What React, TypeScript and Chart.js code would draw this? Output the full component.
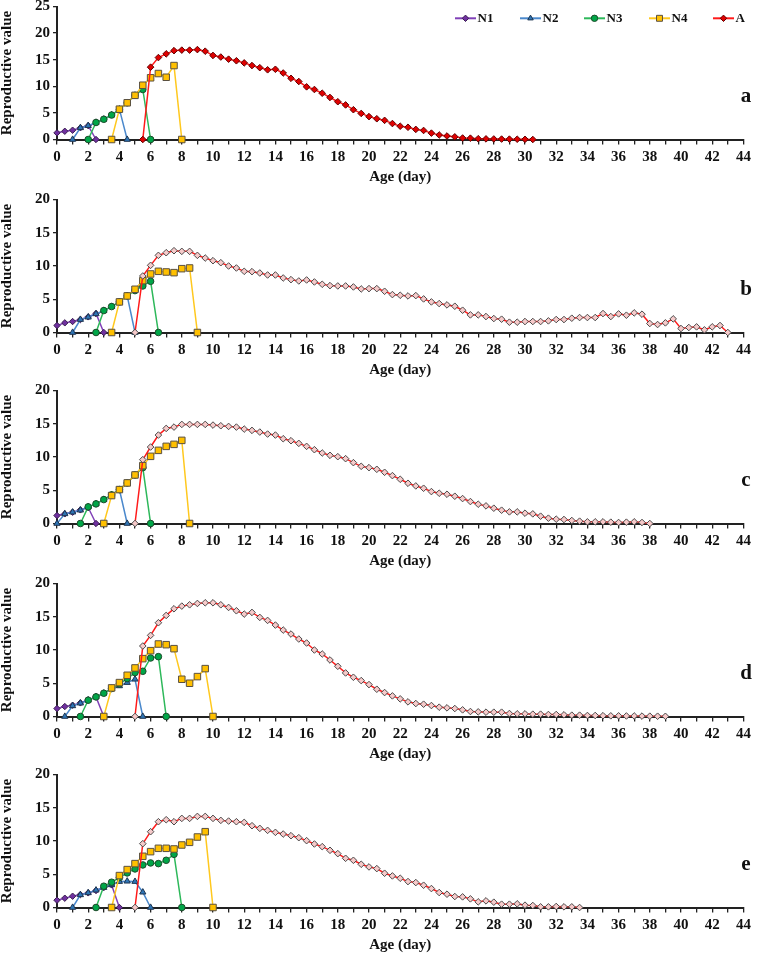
import React, { useEffect, useRef } from 'react';
import { Chart, registerables } from 'chart.js';
import { drawPoint } from 'chart.js/helpers';

Chart.register(...registerables);

// ---------- DATA ----------
const AGES = [0,0.5,1,1.5,2,2.5,3,3.5,4,4.5,5,5.5,6,6.5,7,7.5,8,8.5,9,9.5,10,10.5,11,11.5,12,12.5,13,13.5,14,14.5,15,15.5,16,16.5,17,17.5,18,18.5,19,19.5,20,20.5,21,21.5,22,22.5,23,23.5,24,24.5,25,25.5,26,26.5,27,27.5,28,28.5,29,29.5,30,30.5,31,31.5,32,32.5,33,33.5,34,34.5,35,35.5,36,36.5,37,37.5,38,38.5,39,39.5,40,40.5,41,41.5,42,42.5,43,43.5,44];
const SERIES_NAMES = ['N1', 'N2', 'N3', 'N4', 'A'];
const PANEL_LETTERS = ['a', 'b', 'c', 'd', 'e'];
const Y_MAX = [25, 20, 20, 20, 20];
const X_AXIS_TITLE = 'Age (day)';
const Y_AXIS_TITLE = 'Reproductive value';

// start age of each series (N1, N2, N3, N4, A) per panel
const a_starts = [0, 1, 2, 3.5, 5.5];
const a_N1 = [1.25, 1.55, 1.75, 2.2, 2.6, 0];
const a_N2 = [0, 2.2, 2.6, 3.2, 3.8, 4.6, 5.7, 0];
const a_N3 = [0, 3.2, 3.8, 4.6, 5.6, 6.9, 8.3, 9.4, 0];
const a_N4 = [0, 5.7, 6.9, 8.3, 10.2, 11.6, 12.4, 11.7, 13.9, 0];
const a_A = [0, 13.6, 15.4, 16.1, 16.7, 16.8, 16.8, 16.9, 16.6, 15.8, 15.5, 15.1, 14.8, 14.4, 13.9, 13.5, 13.1, 13.2, 12.5, 11.5, 10.9, 9.9, 9.4, 8.7, 7.9, 7.1, 6.5, 5.6, 4.9, 4.3, 3.9, 3.6, 3.0, 2.5, 2.3, 1.9, 1.7, 1.2, 0.85, 0.66, 0.5, 0.28, 0.25, 0.15, 0.12, 0.1, 0.08, 0.07, 0.05, 0.03, 0];

const b_starts = [0, 1, 2.5, 3.5, 5];
const b_N1 = [1.05, 1.45, 1.65, 1.95, 2.35, 2.85, 0];
const b_N2 = [0, 1.95, 2.3, 2.8, 3.3, 3.9, 4.6, 5.5, 0];
const b_N3 = [0, 3.3, 3.9, 4.6, 5.5, 6.3, 7.0, 7.7, 0];
const b_N4 = [0, 4.6, 5.5, 6.5, 7.8, 8.8, 9.2, 9.1, 9.0, 9.6, 9.7, 0];
const b_A = [0, 8.5, 10.1, 11.6, 12.0, 12.3, 12.2, 12.2, 11.6, 11.2, 10.8, 10.5, 10.0, 9.7, 9.2, 9.15, 8.95, 8.65, 8.65, 8.2, 7.95, 7.75, 7.9, 7.6, 7.25, 7.05, 7.0, 7.0, 6.85, 6.55, 6.6, 6.6, 6.2, 5.7, 5.6, 5.5, 5.55, 5.05, 4.6, 4.35, 4.15, 3.95, 3.35, 2.65, 2.65, 2.4, 2.1, 2.0, 1.55, 1.55, 1.65, 1.65, 1.65, 1.75, 1.95, 1.95, 2.15, 2.25, 2.25, 2.25, 2.85, 2.4, 2.8, 2.6, 2.95, 2.75, 1.35, 1.2, 1.45, 2.05, 0.6, 0.75, 0.85, 0.4, 0.85, 1.05, 0];

const c_starts = [0, 0, 1.5, 3, 5];
const c_N1 = [1.2, 1.45, 1.7, 2.05, 2.4, 0];
const c_N2 = [0, 1.45, 1.7, 2.0, 2.5, 2.95, 3.6, 4.3, 5.1, 0];
const c_N3 = [0, 2.5, 2.95, 3.6, 4.3, 5.1, 6.1, 7.3, 8.4, 0];
const c_N4 = [0, 4.2, 5.1, 6.1, 7.3, 8.7, 10.1, 11.0, 11.6, 11.9, 12.5, 0];
const c_A = [0, 9.6, 11.5, 13.3, 14.3, 14.5, 14.9, 14.9, 14.9, 14.9, 14.8, 14.7, 14.6, 14.5, 14.2, 14.0, 13.75, 13.45, 13.3, 12.75, 12.45, 12.05, 11.6, 11.1, 10.6, 10.25, 10.05, 9.75, 9.15, 8.6, 8.4, 8.15, 7.7, 7.2, 6.65, 6.05, 5.65, 5.3, 4.8, 4.55, 4.4, 4.1, 3.75, 3.3, 2.9, 2.65, 2.3, 2.0, 1.75, 1.75, 1.55, 1.45, 1.1, 0.8, 0.65, 0.6, 0.45, 0.35, 0.25, 0.25, 0.25, 0.2, 0.15, 0.2, 0.25, 0.15, 0];

const d_starts = [0, 0.5, 1.5, 3, 5];
const d_N1 = [1.2, 1.5, 1.7, 2.05, 2.5, 2.95, 0];
const d_N2 = [0, 1.6, 2.0, 2.45, 2.95, 3.5, 4.2, 4.6, 5.1, 5.6, 0];
const d_N3 = [0, 2.45, 2.95, 3.5, 4.2, 4.9, 5.7, 6.6, 6.8, 8.8, 9.0, 0];
const d_N4 = [0, 4.3, 5.1, 6.2, 7.3, 8.7, 9.9, 10.9, 10.8, 10.2, 5.6, 5.0, 6.0, 7.2, 0];
const d_A = [0, 10.6, 12.2, 14.1, 15.2, 16.2, 16.6, 16.8, 17.0, 17.1, 17.1, 16.8, 16.4, 15.9, 15.4, 15.65, 14.9, 14.45, 13.75, 13.0, 12.4, 11.65, 11.05, 10.0, 9.4, 8.5, 7.55, 6.55, 5.9, 5.4, 4.8, 4.1, 3.6, 3.1, 2.65, 2.2, 1.95, 1.85, 1.65, 1.4, 1.3, 1.2, 1.0, 0.75, 0.7, 0.65, 0.65, 0.65, 0.45, 0.4, 0.4, 0.35, 0.35, 0.3, 0.3, 0.25, 0.2, 0.2, 0.15, 0.15, 0.12, 0.1, 0.1, 0.08, 0.08, 0.06, 0.05, 0.04, 0.03];

const e_starts = [0, 1, 2.5, 3.5, 5];
const e_N1 = [1.1, 1.4, 1.7, 1.95, 2.2, 2.55, 3.0, 3.4, 0];
const e_N2 = [0, 1.9, 2.2, 2.6, 3.0, 3.4, 3.9, 3.95, 3.9, 2.3, 0];
const e_N3 = [0, 3.2, 3.8, 4.5, 5.2, 5.8, 6.4, 6.7, 6.6, 7.1, 8.0, 0];
const e_N4 = [0, 4.8, 5.7, 6.6, 7.7, 8.4, 8.9, 8.9, 8.8, 9.4, 9.8, 10.6, 11.4, 0];
const e_A = [0, 9.6, 11.4, 12.9, 13.2, 12.9, 13.4, 13.4, 13.7, 13.7, 13.4, 13.1, 13.0, 12.9, 12.8, 12.3, 11.9, 11.6, 11.3, 11.05, 10.8, 10.5, 10.05, 9.55, 9.15, 8.6, 8.1, 7.4, 7.1, 6.5, 6.1, 5.85, 5.15, 4.75, 4.4, 3.9, 3.75, 3.35, 2.85, 2.25, 2.0, 1.65, 1.6, 1.3, 0.85, 1.0, 0.8, 0.5, 0.5, 0.55, 0.35, 0.3, 0.1, 0.1, 0.15, 0.1, 0.1, 0];

const PANEL_STARTS = [a_starts, b_starts, c_starts, d_starts, e_starts];
const PANEL_SERIES = [
  [a_N1, a_N2, a_N3, a_N4, a_A],
  [b_N1, b_N2, b_N3, b_N4, b_A],
  [c_N1, c_N2, c_N3, c_N4, c_A],
  [d_N1, d_N2, d_N3, d_N4, d_A],
  [e_N1, e_N2, e_N3, e_N4, e_A],
];

// ---------- STYLE ----------
const FONT = "'Times New Roman', 'Liberation Serif', serif";
const STYLES = [
  { line: '#8040B8', fill: '#7030A0', border: '#3a2050', shape: 'rectRot', r: 3.2 },
  { line: '#4A88CC', fill: '#2E75B6', border: '#1e3550', shape: 'triangle', r: 3.6 },
  { line: '#2DB85A', fill: '#00A648', border: '#1d4a2a', shape: 'circle', r: 3.3 },
  { line: '#FFC81E', fill: '#FFC000', border: '#5a5040', shape: 'rect', r: 4.6 },
  { line: '#FF1A1A', fill: '#E00000', border: '#600000', shape: 'rectRot', r: 3.3 },
];
const A_HOLLOW_FILL = '#F6CACA';
const A_HOLLOW_BORDER = '#4a4a4a';
const CANVAS_TOPS = [-4, 189, 380, 573, 764];
const CANVAS_H = 190;
const W = 757;
const LEGEND_X = [455, 520, 584, 649, 713];

function toPoints(start: number, vals: number[]) {
  const i0 = AGES.indexOf(start);
  return vals.map((v, i) => ({ x: AGES[i0 + i], y: v }));
}

const panelPlugin = {
  id: 'panelDeco',
  afterDraw(chart: any, _args: any, opts: any) {
    const ctx = chart.ctx;
    const area = chart.chartArea;
    ctx.save();
    ctx.fillStyle = '#111';
    ctx.font = `bold 21px ${FONT}`;
    ctx.textAlign = 'center';
    ctx.textBaseline = 'middle';
    ctx.fillText(opts.letter, area.right + 2.6, area.bottom - 42.5);
    if (opts.legend) {
      ctx.font = `bold 13px ${FONT}`;
      ctx.textAlign = 'left';
      const y = area.top + 11.8;
      SERIES_NAMES.forEach((name, i) => {
        const st = STYLES[i];
        const x0 = LEGEND_X[i];
        ctx.strokeStyle = st.line;
        ctx.lineWidth = 2;
        ctx.beginPath();
        ctx.moveTo(x0, y);
        ctx.lineTo(x0 + 21, y);
        ctx.stroke();
        ctx.fillStyle = st.fill;
        ctx.strokeStyle = st.border;
        ctx.lineWidth = 1;
        drawPoint(ctx, { pointStyle: st.shape, radius: st.shape === 'rect' ? 4.2 : 3.2, rotation: 0, borderWidth: 1 }, x0 + 10.5, y);
        ctx.fillStyle = '#111';
        ctx.fillText(name, x0 + 22.5, y + 0.5);
      });
    }
    ctx.restore();
  },
};

function buildConfig(p: number) {
  const datasets = SERIES_NAMES.map((name, i) => {
    const st = STYLES[i];
    const hollow = i === 4 && p > 0;
    return {
      label: name,
      data: toPoints(PANEL_STARTS[p][i], PANEL_SERIES[p][i]),
      borderColor: st.line,
      borderWidth: 1.5,
      pointStyle: st.shape,
      pointRadius: st.r,
      pointBackgroundColor: hollow ? A_HOLLOW_FILL : st.fill,
      pointBorderColor: hollow ? A_HOLLOW_BORDER : st.border,
      pointBorderWidth: 1,
      tension: 0,
      clip: false,
      order: 5 - i,
    };
  });
  const tickFont = { family: FONT, size: 15, weight: 'bold' as const };
  return {
    type: 'line' as const,
    data: { datasets },
    plugins: [panelPlugin],
    options: {
      animation: false,
      responsive: false,
      maintainAspectRatio: false,
      devicePixelRatio: 1,
      events: [],
      layout: { padding: { top: 10.5, right: 13.6, left: 0, bottom: 0 } },
      plugins: {
        legend: { display: false },
        tooltip: { enabled: false },
        panelDeco: { letter: PANEL_LETTERS[p], legend: p === 0 },
      },
      scales: {
        x: {
          type: 'linear',
          min: 0,
          max: 44,
          afterFit: (s: any) => { s.height = 46.5; s.paddingLeft = 0; s.paddingRight = 0; },
          ticks: {
            stepSize: 1,
            autoSkip: false,
            maxRotation: 0,
            minRotation: 0,
            padding: 4,
            color: '#111',
            font: tickFont,
            callback: (v: any) => (Number(v) % 2 === 0 ? String(v) : ''),
          },
          grid: { drawOnChartArea: false, drawTicks: true, tickLength: 5, color: '#222', lineWidth: 1.3 },
          border: { display: true, color: '#222', width: 2 },
          title: { display: true, text: X_AXIS_TITLE, color: '#111', font: { family: FONT, size: 15, weight: 'bold' }, padding: 0 },
        },
        y: {
          type: 'linear',
          min: 0,
          max: Y_MAX[p],
          afterFit: (s: any) => { s.width = 57; s.paddingTop = 0; s.paddingBottom = 0; },
          ticks: { stepSize: 5, padding: 3, color: '#111', font: tickFont },
          grid: { drawOnChartArea: false, drawTicks: true, tickLength: 4, color: '#222', lineWidth: 1.3 },
          border: { display: true, color: '#222', width: 2 },
          title: { display: true, text: Y_AXIS_TITLE, color: '#111', font: { family: FONT, size: 15, weight: 'bold', lineHeight: 1 }, padding: 0 },
        },
      },
    },
  };
}

export default function App() {
  const refs = useRef<(HTMLCanvasElement | null)[]>([]);
  useEffect(() => {
    const charts = refs.current.map((c, p) => (c ? new Chart(c, buildConfig(p) as any) : null));
    return () => { charts.forEach((ch) => ch && ch.destroy()); };
  }, []);
  return (
    <div style={{ position: 'absolute', left: 0, top: 0, width: W, height: 954, overflow: 'hidden', background: '#fff' }}>
      {PANEL_LETTERS.map((l, p) => (
        <canvas
          key={l}
          ref={(el) => { refs.current[p] = el; }}
          width={W}
          height={CANVAS_H}
          style={{ position: 'absolute', left: 0, top: CANVAS_TOPS[p], width: W, height: CANVAS_H, display: 'block' }}
        />
      ))}
    </div>
  );
}
